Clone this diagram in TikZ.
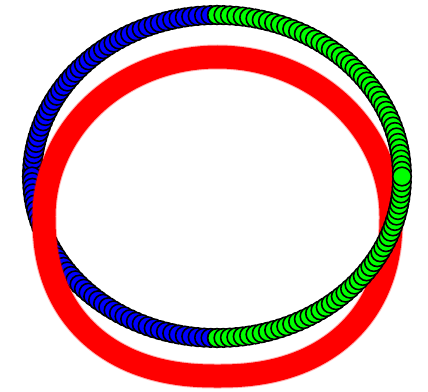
\documentclass[tikz,border=0pt]{standalone}
\usepackage{tikz}
\definecolor{ringred}{RGB}{255,0,0}
\definecolor{dotblue}{RGB}{0,0,255}
\definecolor{dotgreen}{RGB}{0,255,0}
\tikzset{
  dot/.style  ={draw=black, line width=1.6pt},
  bdot/.style ={dot, fill=dotblue},
  gdot/.style ={dot, fill=dotgreen},
  band/.style ={draw=ringred, line width=23pt, line join=round},
}
% centre and half axes of the ring of dots (px, y down)
\newcommand{\cx}{217}
\newcommand{\cy}{176.5}
\newcommand{\ax}{185}
\newcommand{\by}{161.5}
% red ring: plain ellipse on top, a little squarer in the lower half
\newcommand{\redpath}{plot[domain=0:359, samples=360]
  ({217.5+173.5*sign(cos(\x))*(abs(cos(\x))+0.00001)^((\x>180)?0.88:1)},
   {216.5-159.5*sign(sin(\x))*(abs(sin(\x))+0.00001)^((\x>180)?0.88:1)}) -- cycle}
\begin{document}
\begin{tikzpicture}[x=1pt,y=-1pt]
  \useasboundingbox (0,0) rectangle (428,391);
  \fill[white] (0,0) rectangle (428,391);
  % blue half, upper and lower, left to right
  \foreach \a in {180,178,...,90}
    \draw[bdot] ({\cx+\ax*cos(\a)},{\cy-\by*sin(\a)}) circle[radius=9.3pt];
  \foreach \a in {180,182,...,270}
    \draw[bdot] ({\cx+\ax*cos(\a)},{\cy-\by*sin(\a)}) circle[radius=9.3pt];
  % red ring
  \draw[band, draw opacity=0.3, line width=25pt] \redpath;
  \draw[band] \redpath;
  % green half
  \foreach \a in {90,88,...,2}
    \draw[gdot] ({\cx+\ax*cos(\a)},{\cy-\by*sin(\a)}) circle[radius=9.3pt];
  \foreach \a in {270,272,...,358}
    \draw[gdot] ({\cx+\ax*cos(\a)},{\cy-\by*sin(\a)}) circle[radius=9.3pt];
  \draw[gdot] ({\cx+\ax},\cy) circle[radius=9.3pt];
\end{tikzpicture}
\end{document}
